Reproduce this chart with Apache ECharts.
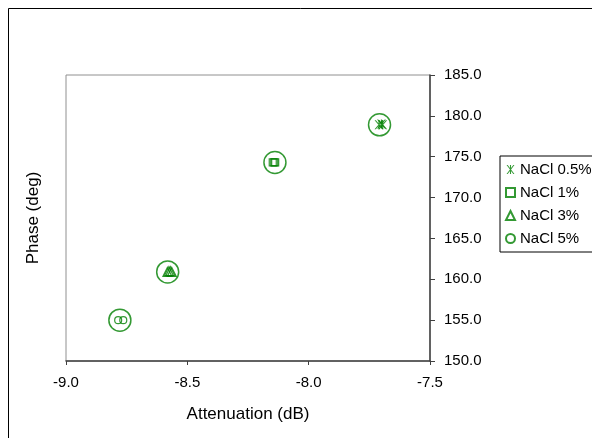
<!DOCTYPE html>
<html>
<head>
<meta charset="utf-8">
<script src="https://cdn.jsdelivr.net/npm/echarts@6/dist/echarts.min.js"></script>
<style>
html,body{margin:0;padding:0;background:#fff;}
#c{width:592px;height:438px;}
</style>
</head>
<body>
<div id="c"></div>
<script>
// ---- data ----
var seriesNames = ['NaCl 0.5%', 'NaCl 1%', 'NaCl 3%', 'NaCl 5%'];
var nacl05 = [[-7.71, 178.9], [-7.70, 179.0], [-7.695, 178.9]];
var nacl1 = [[-8.148, 174.3], [-8.142, 174.3], [-8.138, 174.3]];
var nacl3 = [[-8.582, 160.9], [-8.576, 161.0], [-8.570, 161.0], [-8.564, 160.9]];
var nacl5 = [[-8.785, 155.0], [-8.764, 155.0]];
var highlightCircles = [[-7.708, 178.9], [-8.139, 174.3], [-8.581, 160.9], [-8.778, 155.0]];
var xTicks = [-9.0, -8.5, -8.0, -7.5];
var yTicks = [150, 155, 160, 165, 170, 175, 180, 185];

var GREEN = '#008000';
var FONT = 'Liberation Sans, Arial, sans-serif';
var asterisk = 'path://M4.4,0 L5.6,0 L5.6,10 L4.4,10 Z M0.6,0 L1.9,0 L9.4,10 L8.1,10 Z M8.1,0 L9.4,0 L1.9,10 L0.6,10 Z';
var hollow = {color: 'rgba(255,255,255,0)', borderColor: GREEN, borderWidth: 1.2};

var chart = echarts.init(document.getElementById('c'), null, {renderer: 'canvas'});
chart.setOption({
  animation: false,
  backgroundColor: '#fff',
  graphic: [
    {type: 'rect', shape: {x: 8.5, y: 8.5, width: 700, height: 600}, style: {fill: 'none', stroke: '#000', lineWidth: 1}, silent: true, z: -10},
    {type: 'text', x: 33, y: 218, rotation: Math.PI / 2, style: {text: 'Phase (deg)', font: '17px ' + FONT, fill: '#000', textAlign: 'center', textVerticalAlign: 'middle'}}
  ],
  grid: {left: 66, right: 162, top: 75, bottom: 77, show: true, borderColor: '#909090', borderWidth: 1, backgroundColor: 'transparent'},
  legend: {
    data: seriesNames,
    orient: 'vertical',
    left: 500, top: 156,
    padding: [6, 2, 6, 5],
    itemGap: 8,
    itemWidth: 9, itemHeight: 9,
    borderColor: '#000', borderWidth: 1,
    textStyle: {fontFamily: FONT, fontSize: 15, color: '#000', padding: [0, 0, 0, 0]},
    selectedMode: false
  },
  xAxis: {
    type: 'value', min: xTicks[0], max: xTicks[xTicks.length - 1], interval: 0.5,
    name: 'Attenuation (dB)', nameLocation: 'middle', nameGap: 45,
    nameTextStyle: {fontFamily: FONT, fontSize: 17, color: '#000'},
    axisLine: {show: true, onZero: false, lineStyle: {color: '#404040', width: 1.5}},
    axisTick: {show: true, inside: false, length: 4, lineStyle: {color: '#404040'}},
    axisLabel: {fontFamily: FONT, fontSize: 15, color: '#000', margin: 14, formatter: function (v) { return v.toFixed(1); }},
    splitLine: {show: false}
  },
  yAxis: {
    type: 'value', position: 'right', min: yTicks[0], max: yTicks[yTicks.length - 1], interval: 5,
    axisLine: {show: true, onZero: false, lineStyle: {color: '#404040', width: 1.5}},
    axisTick: {show: true, inside: false, length: 5, lineStyle: {color: '#404040'}},
    axisLabel: {fontFamily: FONT, fontSize: 15, color: '#000', margin: 14, formatter: function (v) { return v.toFixed(1); }},
    splitLine: {show: false}
  },
  series: [
    {name: seriesNames[0], type: 'scatter', data: nacl05, symbol: asterisk, symbolSize: 9, itemStyle: {color: GREEN}, emphasis: {disabled: true}},
    {name: seriesNames[1], type: 'scatter', data: nacl1, symbol: 'rect', symbolSize: 7, itemStyle: hollow, emphasis: {disabled: true}},
    {name: seriesNames[2], type: 'scatter', data: nacl3, symbol: 'triangle', symbolSize: 9, itemStyle: hollow, emphasis: {disabled: true}},
    {name: seriesNames[3], type: 'scatter', data: nacl5, symbol: 'circle', symbolSize: 7, itemStyle: hollow, emphasis: {disabled: true}},
    {name: 'groups', type: 'scatter', data: highlightCircles, symbol: 'circle', symbolSize: 22,
     itemStyle: {color: 'rgba(255,255,255,0)', borderColor: GREEN, borderWidth: 1.5}, emphasis: {disabled: true}, z: 1}
  ]
});
</script>
</body>
</html>
